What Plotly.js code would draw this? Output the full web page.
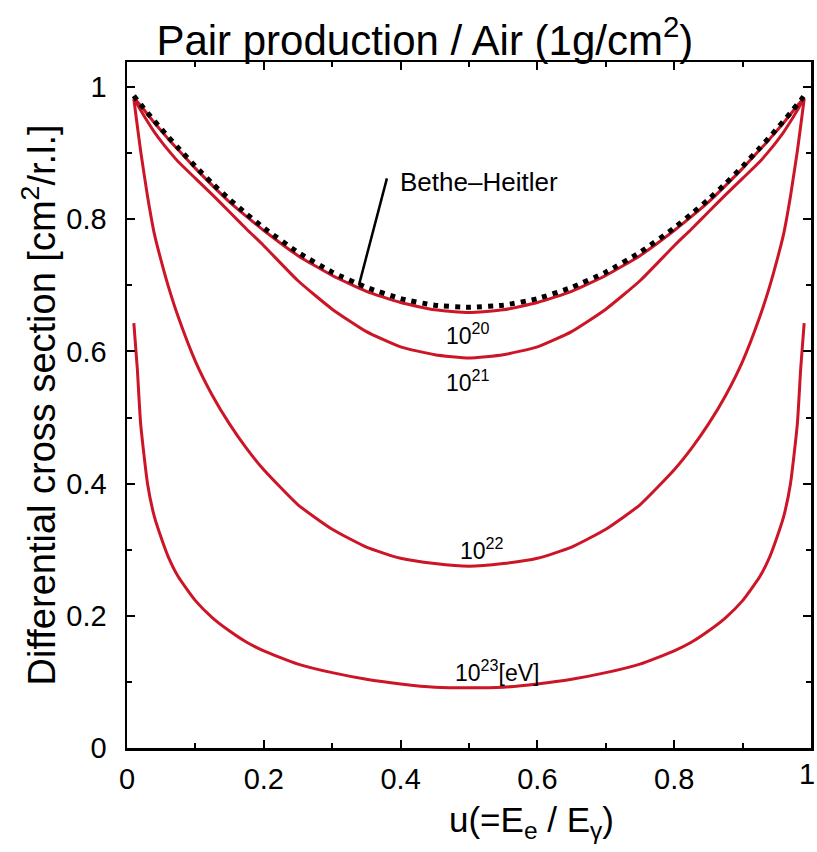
<!DOCTYPE html>
<html>
<head>
<meta charset="utf-8">
<script src="https://cdn.plot.ly/plotly-3.0.1.min.js"></script>
<style>
  html, body { margin: 0; padding: 0; background: #fff; }
  #chart { width: 817px; height: 852px; }
</style>
</head>
<body>
<div id="chart"></div>
<script>
// Fractional energy u = Ee / Egamma carried by one member of the pair
const u = [0.01, 0.015, 0.02, 0.03, 0.04, 0.05, 0.06, 0.075, 0.1, 0.125, 0.15, 0.175, 0.2, 0.25, 0.3, 0.35, 0.4, 0.45, 0.5,
           0.55, 0.6, 0.65, 0.7, 0.75, 0.8, 0.825, 0.85, 0.875, 0.9, 0.925, 0.94, 0.95, 0.96, 0.97, 0.98, 0.985, 0.99];

// Bethe-Heitler (no LPM suppression)
const betheHeitler = [0.987, 0.980, 0.974, 0.961, 0.949, 0.937, 0.925, 0.908, 0.880, 0.854, 0.830, 0.808, 0.787, 0.750, 0.720, 0.697, 0.680, 0.670, 0.667,
                      0.670, 0.680, 0.697, 0.720, 0.750, 0.787, 0.808, 0.830, 0.854, 0.880, 0.908, 0.925, 0.937, 0.949, 0.961, 0.974, 0.980, 0.987];

// LPM-suppressed cross sections for photon energies 1e20 ... 1e23 eV
const e20 = [0.985, 0.978, 0.972, 0.959, 0.946, 0.934, 0.922, 0.905, 0.877, 0.851, 0.826, 0.804, 0.783, 0.745, 0.715, 0.691, 0.674, 0.663, 0.659,
             0.663, 0.674, 0.691, 0.715, 0.745, 0.783, 0.804, 0.826, 0.851, 0.877, 0.905, 0.922, 0.934, 0.946, 0.959, 0.972, 0.978, 0.985];
const e21 = [0.982, 0.974, 0.965, 0.948, 0.932, 0.918, 0.905, 0.887, 0.862, 0.837, 0.811, 0.785, 0.760, 0.707, 0.664, 0.630, 0.607, 0.595, 0.590,
             0.595, 0.607, 0.630, 0.664, 0.707, 0.760, 0.785, 0.811, 0.837, 0.862, 0.887, 0.905, 0.918, 0.932, 0.948, 0.965, 0.974, 0.982];
const e22 = [0.982, 0.942, 0.903, 0.835, 0.778, 0.737, 0.700, 0.652, 0.585, 0.533, 0.490, 0.453, 0.421, 0.368, 0.331, 0.304, 0.287, 0.279, 0.275,
             0.279, 0.287, 0.304, 0.331, 0.368, 0.421, 0.453, 0.490, 0.533, 0.585, 0.652, 0.700, 0.737, 0.778, 0.835, 0.903, 0.942, 0.982];
const e23 = [0.643, 0.575, 0.490, 0.400, 0.350, 0.318, 0.290, 0.259, 0.223, 0.197, 0.177, 0.160, 0.147, 0.127, 0.114, 0.104, 0.097, 0.092, 0.091,
             0.092, 0.097, 0.104, 0.114, 0.127, 0.147, 0.160, 0.177, 0.197, 0.223, 0.259, 0.290, 0.318, 0.350, 0.400, 0.490, 0.575, 0.643];

const energyLabels = ['10<sup>20</sup>', '10<sup>21</sup>', '10<sup>22</sup>', '10<sup>23</sup>[eV]'];

// x tick values; the last label sits at the right edge of the page
const xTickVals = [0, 0.2, 0.4, 0.6, 0.8, 1];
const xTickText = ['0', '0.2', '0.4', '0.6', '0.8', ''];
const xEdgeLabel = '1';

const RED = '#cc1526';
const FONT = 'Liberation Sans, Arial, Helvetica, sans-serif';
const TICK_SIZE = 29;

const redLine = { color: RED, width: 3, shape: 'spline', smoothing: 0.5 };

const traces = [
  { x: u, y: e23, mode: 'lines', line: redLine, hoverinfo: 'skip' },
  { x: u, y: e22, mode: 'lines', line: redLine, hoverinfo: 'skip' },
  { x: u, y: e21, mode: 'lines', line: redLine, hoverinfo: 'skip' },
  { x: u, y: e20, mode: 'lines', line: redLine, hoverinfo: 'skip' },
  { x: u, y: betheHeitler, mode: 'lines',
    line: { color: '#000', width: 5, dash: '5px,6px', shape: 'spline', smoothing: 0.5 }, hoverinfo: 'skip' }
];

const axisCommon = {
  showline: true, linecolor: '#000', linewidth: 2.5, mirror: 'ticks',
  ticks: 'inside', ticklen: 8, tickwidth: 2, tickcolor: '#000',
  minor: { ticks: 'inside', ticklen: 5, tickwidth: 2, tickcolor: '#000', dtick: 0.1 },
  showgrid: false, zeroline: false,
  tickfont: { family: FONT, size: TICK_SIZE, color: '#000' }
};

const annFont = { family: FONT, size: 23, color: '#000' };

const layout = {
  width: 817, height: 852,
  margin: { l: 127, r: 6, t: 62, b: 104 },
  paper_bgcolor: '#fff', plot_bgcolor: '#fff',
  showlegend: false,
  title: {
    text: 'Pair production / Air (1g/cm<sup>2</sup>)',
    font: { family: FONT, size: 42, color: '#000' },
    x: 0.52, xanchor: 'center', xref: 'container',
    y: 0.953, yanchor: 'middle', yref: 'container'
  },
  xaxis: Object.assign({}, axisCommon, {
    range: [0, 1], tickmode: 'array', tickvals: xTickVals, ticktext: xTickText,
    ticklabelstandoff: 4
  }),
  yaxis: Object.assign({}, axisCommon, { range: [0, 1.038], dtick: 0.2, tick0: 0, ticklabelstandoff: 12 }),
  shapes: [
    { type: 'line', xref: 'x', yref: 'y', x0: 0.380, y0: 0.862, x1: 0.339, y1: 0.700,
      line: { color: '#000', width: 2.5 } }
  ],
  annotations: [
    { text: xEdgeLabel, x: 1, y: 0, xref: 'x', yref: 'paper',
      xanchor: 'right', yanchor: 'top', xshift: 6, yshift: -8, showarrow: false,
      font: { family: FONT, size: TICK_SIZE, color: '#000' } },
    { text: 'Bethe\u2013Heitler', x: 0.396, y: 0.856, xref: 'x', yref: 'y',
      xanchor: 'left', yanchor: 'middle', showarrow: false,
      font: { family: FONT, size: 26, color: '#000' } },
    { text: energyLabels[0], x: 0.499, y: 0.626, xref: 'x', yref: 'y',
      xanchor: 'center', yanchor: 'middle', showarrow: false, font: annFont },
    { text: energyLabels[1], x: 0.499, y: 0.556, xref: 'x', yref: 'y',
      xanchor: 'center', yanchor: 'middle', showarrow: false, font: annFont },
    { text: energyLabels[2], x: 0.519, y: 0.301, xref: 'x', yref: 'y',
      xanchor: 'center', yanchor: 'middle', showarrow: false, font: annFont },
    { text: energyLabels[3], x: 0.541, y: 0.116, xref: 'x', yref: 'y',
      xanchor: 'center', yanchor: 'middle', showarrow: false, font: annFont },
    { text: 'Differential cross section [cm<sup>2</sup>/r.l.]', textangle: -90,
      x: -0.128, y: 0.50, xref: 'paper', yref: 'paper',
      xanchor: 'center', yanchor: 'middle', showarrow: false,
      font: { family: FONT, size: 38, color: '#000' } },
    { text: 'u(=E<sub>e</sub> / E<sub>\u03b3</sub>)',
      x: 0.592, y: -0.108, xref: 'paper', yref: 'paper',
      xanchor: 'center', yanchor: 'middle', showarrow: false,
      font: { family: FONT, size: 35, color: '#000' } }
  ]
};

Plotly.newPlot('chart', traces, layout, { staticPlot: true, displayModeBar: false });
</script>
</body>
</html>
